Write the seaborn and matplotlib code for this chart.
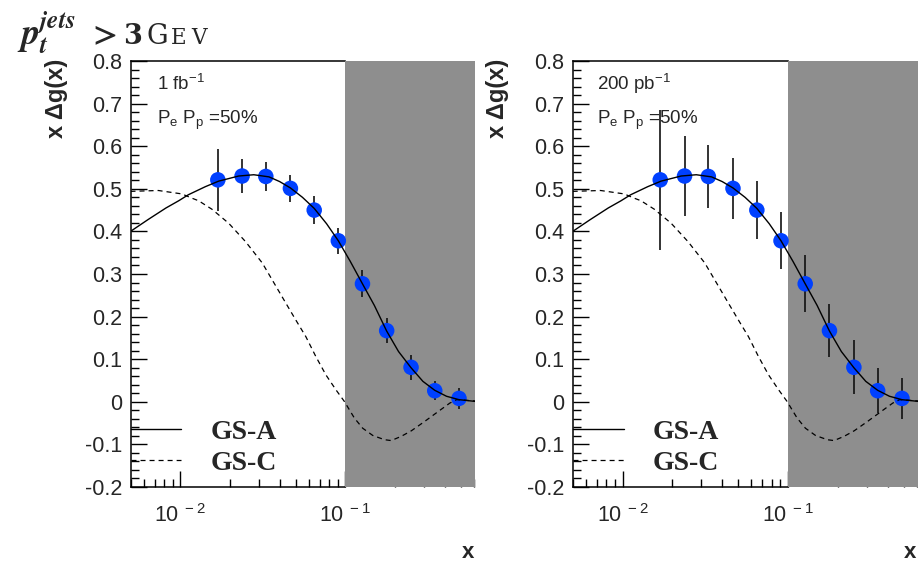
import numpy as np
import pandas as pd
import matplotlib
matplotlib.use("Agg")
import matplotlib.pyplot as plt
import seaborn as sns
from matplotlib.ticker import FixedLocator, NullFormatter, FixedFormatter, LogLocator
from matplotlib.lines import Line2D

# ---------------- data ----------------
x_points = [0.0169, 0.0237, 0.0330, 0.0465, 0.0648, 0.0907, 0.127, 0.178, 0.250, 0.348, 0.488]
y_points = [0.521, 0.530, 0.529, 0.501, 0.450, 0.378, 0.277, 0.167, 0.081, 0.026, 0.008]
err_1fb = [0.073, 0.041, 0.034, 0.032, 0.032, 0.030, 0.032, 0.029, 0.029, 0.022, 0.024]
err_200pb = [0.165, 0.093, 0.074, 0.071, 0.069, 0.067, 0.067, 0.063, 0.063, 0.053, 0.049]

gsa_x = [0.005, 0.0064, 0.0082, 0.0098, 0.0112, 0.0142, 0.0171, 0.0226, 0.0279, 0.0345,
         0.0400, 0.0465, 0.055, 0.0648, 0.077, 0.0907, 0.107, 0.127, 0.150, 0.178,
         0.21, 0.25, 0.295, 0.348, 0.41, 0.488, 0.61]
gsa_y = [0.400, 0.428, 0.455, 0.472, 0.486, 0.505, 0.518, 0.530, 0.533, 0.528,
         0.517, 0.502, 0.480, 0.454, 0.418, 0.378, 0.330, 0.277, 0.226, 0.166,
         0.118, 0.080, 0.048, 0.027, 0.013, 0.005, 0.001]

gsc_x = [0.005, 0.00738, 0.01023, 0.01177, 0.01292, 0.01557, 0.01968, 0.02487, 0.03139,
         0.03609, 0.04356, 0.05012, 0.05765, 0.06633, 0.07632, 0.08778, 0.0986, 0.1134,
         0.1274, 0.1466, 0.1727, 0.1897, 0.2183, 0.2512, 0.3026, 0.3646, 0.4295, 0.4719, 0.61]
gsc_y = [0.494, 0.496, 0.488, 0.478, 0.472, 0.452, 0.419, 0.376, 0.326,
         0.286, 0.232, 0.192, 0.153, 0.106, 0.063, 0.028, 0.001, -0.038,
         -0.062, -0.079, -0.089, -0.091, -0.081, -0.068, -0.046, -0.023, -0.003, 0.005, 0.002]

y_ticks = [-0.2, -0.1, 0.0, 0.1, 0.2, 0.3, 0.4, 0.5, 0.6, 0.7, 0.8]
y_tick_labels = ["-0.2", "-0.1", "0", "0.1", "0.2", "0.3", "0.4", "0.5", "0.6", "0.7", "0.8"]
x_ticks = [0.01, 0.1]
x_tick_labels = [r"$\mathregular{10^{\ -2}}$", r"$\mathregular{10^{\ -1}}$"]
lumi_labels = [r"1 fb$^{\mathregular{-1}}$", r"200 pb$^{\mathregular{-1}}$"]
pol_label = r"P$_{\mathregular{e}}$ P$_{\mathregular{p}}$ =50%"
legend_labels = ["GS-A", "GS-C"]

# ---------------- style ----------------
sns.set_style("ticks")
plt.rcParams["font.family"] = ["Liberation Sans", "DejaVu Sans"]
plt.rcParams["mathtext.fontset"] = "custom"
plt.rcParams["mathtext.rm"] = "Liberation Sans"
plt.rcParams["mathtext.it"] = "Liberation Sans:italic"
plt.rcParams["mathtext.bf"] = "Liberation Sans:bold"
plt.rcParams["axes.unicode_minus"] = False
plt.rcParams["lines.scale_dashes"] = False

W, H = 918, 561
fig = plt.figure(figsize=(W / 100, H / 100), dpi=100)
fig.patch.set_facecolor("white")

df_pts = pd.DataFrame({"x": x_points, "y": y_points})
df_a = pd.DataFrame({"x": gsa_x, "y": gsa_y})
df_c = pd.DataFrame({"x": gsc_x, "y": gsc_y})

axes_px = [(130.5, 344.5), (572.7, 345.3)]
errs = [err_1fb, err_200pb]
dash = (0, (3.6, 2.9))

for i, ((left, width), err) in enumerate(zip(axes_px, errs)):
    ax = fig.add_axes([left / W, 74 / H, width / W, 426 / H])
    ax.set_xscale("log")
    ax.set_xlim(0.005, 0.61)
    ax.set_ylim(-0.2, 0.8)

    # shaded region
    ax.axvspan(0.1, 0.61, color="#8e8e8e", lw=0, zorder=2.6)

    # error bars + points
    ax.errorbar(x_points, y_points, yerr=err, fmt="none", ecolor="#111111",
                elinewidth=1.2, capsize=0, zorder=2.8)
    sns.scatterplot(data=df_pts, x="x", y="y", ax=ax, color="#0040ff", s=125,
                    edgecolor="none", zorder=3, legend=False)

    # curves
    sns.lineplot(data=df_a, x="x", y="y", ax=ax, color="black", lw=1.0,
                 sort=False, zorder=4, legend=False)
    sns.lineplot(data=df_c, x="x", y="y", ax=ax, color="black", lw=0.9,
                 linestyle=dash, sort=False, zorder=4, legend=False)

    ax.set_xlabel("")
    ax.set_ylabel("")

    # spines
    for s in ["left", "bottom", "top"]:
        ax.spines[s].set_linewidth(1.1)
        ax.spines[s].set_color("black")
    ax.spines["right"].set_visible(False)
    ax.spines["bottom"].set_bounds(0.005, 0.1)
    ax.spines["top"].set_bounds(0.005, 0.1)

    # ticks
    ax.yaxis.set_major_locator(FixedLocator(y_ticks))
    ax.yaxis.set_major_formatter(FixedFormatter(y_tick_labels))
    ax.yaxis.set_minor_locator(FixedLocator(np.round(np.arange(-0.2, 0.801, 0.02), 3)))
    ax.xaxis.set_major_locator(FixedLocator(x_ticks))
    ax.xaxis.set_major_formatter(FixedFormatter(x_tick_labels))
    ax.xaxis.set_minor_locator(LogLocator(base=10, subs=np.arange(2, 10)))
    ax.xaxis.set_minor_formatter(NullFormatter())
    ax.tick_params(which="major", direction="in", length=11.5, width=1.0,
                   labelsize=15.5, top=False, right=False, color="black")
    ax.tick_params(which="minor", direction="in", length=5.8, width=1.0,
                   top=False, right=False, color="black")
    ax.tick_params(axis="y", which="major", pad=6)
    ax.tick_params(axis="x", which="major", pad=12)

    # annotations
    tx = (157 - left) / width if i == 0 else (597 - left) / width
    ax.text(tx, 0.932, lumi_labels[i], transform=ax.transAxes, fontsize=13.5,
            va="baseline")
    ax.text(tx, 0.852, pol_label, transform=ax.transAxes, fontsize=13.5,
            va="baseline")

    # legend
    handles = [Line2D([], [], color="black", lw=1.0),
               Line2D([], [], color="black", lw=0.9, linestyle=dash)]
    leg = ax.legend(handles, legend_labels, loc="center left",
                    bbox_to_anchor=(0.0, 0.092), borderpad=0, borderaxespad=0,
                    frameon=False, handlelength=1.83, handletextpad=1.05,
                    labelspacing=0.2,
                    prop={"family": "Liberation Serif", "weight": "bold", "size": 20})
    leg.set_zorder(5)

    # axis titles
    fig.text((57 if i == 0 else 498) / W, 1 - 59 / H, "x \u0394g(x)", rotation=90,
             va="top", ha="center", fontsize=17, fontweight="bold")
    fig.text((468 if i == 0 else 910) / W, 1 - 552 / H, "x", ha="center",
             va="center", fontsize=16, fontweight="bold")

# title
base = 1 - 44 / H
fig.text(17 / W, base,
         r"$\mathbfit{p}_{\mathbfit{t}}^{\mathbfit{jets}}$",
         fontsize=26, va="baseline", ha="left", math_fontfamily="stix")
fig.text(88 / W, base, r"$\mathbf{>}$", fontsize=24, va="baseline", ha="left",
         math_fontfamily="stix")
fig.text(123 / W, base, "3", fontsize=19.5, family="DejaVu Serif",
         fontweight="bold", va="baseline", ha="left")
fig.text(147 / W, base, "G", fontsize=19.5, family="DejaVu Serif",
         va="baseline", ha="left")
fig.text(171 / W, base, "E", fontsize=15.5, family="DejaVu Serif",
         va="baseline", ha="left")
fig.text(191 / W, base, "V", fontsize=15.5, family="DejaVu Serif",
         va="baseline", ha="left")

fig.savefig("out.png", dpi=100)
